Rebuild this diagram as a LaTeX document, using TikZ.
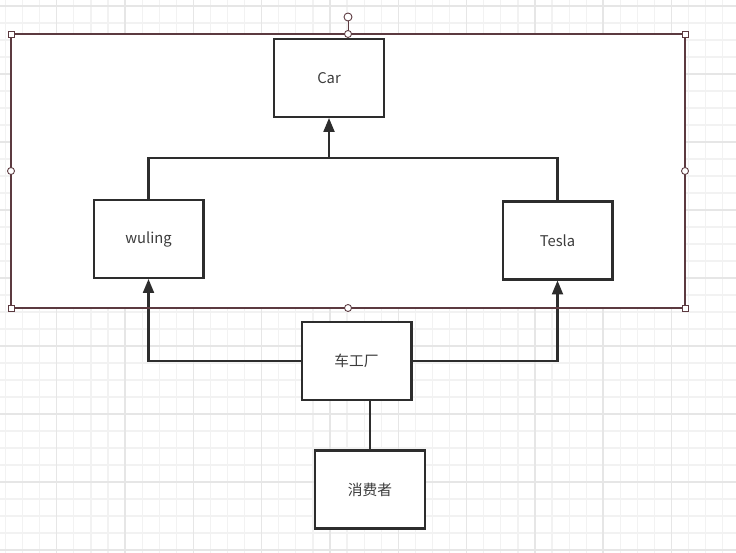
\documentclass[tikz,border=0pt]{standalone}
\usepackage{fontspec}
\newfontfamily\cjk{Noto Sans CJK SC}
\usetikzlibrary{arrows.meta}
\definecolor{gridminor}{RGB}{242,242,242}
\definecolor{gridmajor}{RGB}{230,230,230}
\definecolor{selred}{RGB}{92,58,64}
\definecolor{boxline}{RGB}{45,45,45}
\definecolor{labeltext}{RGB}{60,60,60}
\begin{document}
\begin{tikzpicture}[x=0.02cm, y=-0.02cm,
  box/.style={draw=boxline, line width=1.15pt, fill=white, rectangle,
    minimum width=2.2cm, minimum height=1.56cm, inner sep=0pt,
    font=\cjk\fontsize{8.4}{10}\selectfont, text=labeltext},
  link/.style={draw=boxline, line width=1.2pt},
  arrowlink/.style={link, -{Triangle[width=0.22cm, length=0.28cm]}},
  selline/.style={draw=selred, line width=0.85pt},
  handle/.style={draw=selred, fill=white, line width=0.5pt}]
\useasboundingbox (0,0) rectangle (736,553);
\fill[white] (0,0) rectangle (736,553);
% grid
\foreach \k in {0,...,43} {
  \draw[gridminor, line width=0.7pt] (5.5+17.08*\k,0) -- (5.5+17.08*\k,553);
}
\foreach \k in {0,...,32} {
  \draw[gridminor, line width=0.7pt] (0,6+17*\k) -- (736,6+17*\k);
}
\foreach \k in {0,...,10} {
  \draw[gridmajor, line width=0.8pt] (56.7+68.3*\k-68.3,0) -- (56.7+68.3*\k-68.3,553);
}
\foreach \k in {0,...,8} {
  \draw[gridmajor, line width=0.8pt] (0,6+68*\k) -- (736,6+68*\k);
}
% selected group
\fill[white] (11,34) rectangle (685,308);
\node[box] (car) at (329,78) {Car};
\node[box] (wuling) at (148.5,239) {wuling};
\node[box] (tesla) at (557.5,240.5) {Tesla};
\node[box] (factory) at (356.5,361) {车工厂};
\node[box] (buyer) at (370,489.5) {消费者};
\coordinate (join) at (329,158);
\draw[link] (wuling.north) |- (join) -| (tesla.north);
\draw[arrowlink] (join) -- (car.south);
\draw[arrowlink] (factory.west) -| (wuling.south);
\draw[arrowlink] (factory.east) -| (tesla.south);
\draw[link] (buyer.north) -- (buyer.north |- factory.south);
% selection frame
\draw[selline] (11,34) rectangle (685,308);
\draw[selline, line width=0.5pt] (348,34) -- (348,21);
\draw[handle] (348,17) circle (4);
\foreach \p in {(11,34),(685,34),(11,308),(685,308)} {
  \draw[handle] \p ++(-3,-3) rectangle ++(6,6);
}
\foreach \p in {(348,34),(11,171),(685,171),(348,308)} {
  \draw[handle] \p circle (3.5);
}
\end{tikzpicture}
\end{document}
